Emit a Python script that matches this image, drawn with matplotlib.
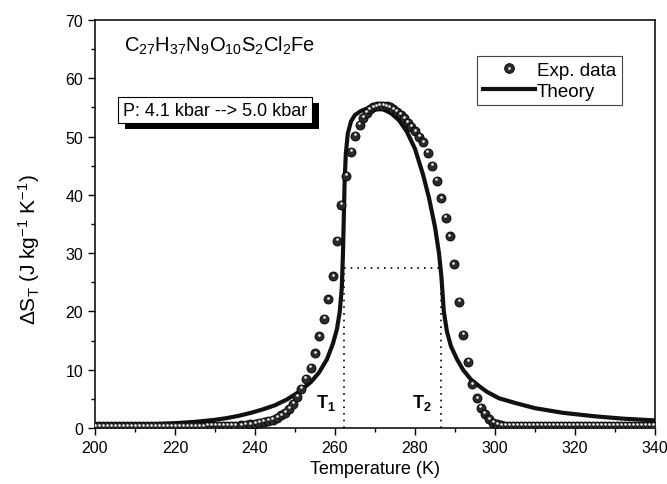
import matplotlib
matplotlib.use('Agg')
import matplotlib.pyplot as plt
from matplotlib import patheffects, transforms
from matplotlib.lines import Line2D
from matplotlib.legend_handler import HandlerTuple
from matplotlib.ticker import MultipleLocator

plt.rcParams['font.family'] = ['Liberation Sans', 'DejaVu Sans']
plt.rcParams['mathtext.fontset'] = 'custom'
plt.rcParams['mathtext.rm'] = 'Liberation Sans'
plt.rcParams['mathtext.it'] = 'Liberation Sans:italic'
plt.rcParams['mathtext.bf'] = 'Liberation Sans:bold'

exp_temp = [200, 201, 202, 203, 204, 205, 206, 207, 208, 209, 210, 211, 212, 213, 214,
            215, 216, 217, 218, 219, 220, 221, 222, 223, 224, 225, 226, 227, 228, 229,
            230, 231, 232, 233, 234, 235, 236.5, 237.7, 238.8, 240.0, 241.1, 242.2,
            243.3, 244.4, 245.5, 246.6, 247.6, 248.6, 249.6, 250.6, 251.6, 252.7, 253.9,
            255.1, 256.1, 257.3, 258.3, 259.5, 260.5, 261.5, 262.8, 264.0, 265.1, 266.2,
            267.1, 267.9, 268.7, 269.5, 270.4, 271.2, 272.1, 272.9, 273.7, 274.6, 275.4,
            276.4, 277.3, 278.2, 279.1, 280.0, 281.0, 282.1, 283.2, 284.3, 285.4, 286.6,
            287.7, 288.7, 289.7, 291.1, 292.1, 293.3, 294.3, 295.5, 296.4, 297.4, 298.5,
            299.5, 300.5, 301.5, 302.5, 303.5, 304.5, 305.5, 306.5, 307.5, 308.5, 309.5,
            310.5, 311.5, 312.5, 313.5, 314.5, 315.5, 316.5, 317.5, 318.5, 319.5, 320.5,
            321.5, 322.5, 323.5, 324.5, 325.5, 326.5, 327.5, 328.5, 329.5, 330.5, 331.5,
            332.5, 333.5, 334.5, 335.5, 336.5, 337.5, 338.5, 339.5]
exp_ds = [0.3, 0.3, 0.3, 0.3, 0.3, 0.3, 0.3, 0.3, 0.3, 0.3, 0.3, 0.3, 0.3, 0.3, 0.3,
          0.3, 0.3, 0.3, 0.3, 0.3, 0.3, 0.3, 0.3, 0.3, 0.3, 0.3, 0.3, 0.3, 0.32, 0.33,
          0.34, 0.35, 0.36, 0.38, 0.4, 0.42, 0.45, 0.5, 0.6, 0.7, 0.85, 1.0,
          1.2, 1.45, 1.75, 2.15, 2.65, 3.3, 4.2, 5.3, 6.7, 8.4, 10.3,
          12.8, 15.7, 18.7, 22.1, 26.0, 32.1, 38.3, 43.3, 47.4, 50.1, 52.0,
          53.2, 54.1, 54.7, 55.0, 55.2, 55.3, 55.3, 55.2, 55.0, 54.7, 54.3,
          53.7, 53.1, 52.4, 51.7, 50.9, 50.0, 49.0, 47.2, 45.0, 42.4, 39.4,
          36.1, 32.9, 28.1, 21.7, 16.0, 11.3, 7.5, 5.1, 3.5, 2.4, 1.5,
          0.9, 0.6, 0.45, 0.4, 0.4, 0.4, 0.4, 0.4, 0.4, 0.4, 0.4,
          0.4, 0.4, 0.4, 0.4, 0.4, 0.4, 0.4, 0.4, 0.4, 0.4, 0.4,
          0.4, 0.4, 0.4, 0.4, 0.4, 0.4, 0.4, 0.4, 0.4, 0.4, 0.4,
          0.4, 0.4, 0.4, 0.4, 0.4, 0.4, 0.4, 0.4]

# theory curve
theory_temp = [200, 205, 210, 215, 220, 225, 230, 233, 236, 239, 242, 245, 248, 251, 254,
               256, 258, 259.5, 260.5, 261.2, 261.7, 262.0, 262.2, 262.4, 262.7, 263.2,
               264, 265, 266.5, 268, 270, 272, 274, 276, 278, 280, 282, 283.5, 285, 286,
               286.6, 287.2, 288, 289, 290.5, 292, 294, 296, 298, 301, 305, 310, 317,
               325, 332, 340]
theory_ds = [0.35, 0.42, 0.52, 0.65, 0.82, 1.05, 1.4, 1.7, 2.1, 2.6, 3.2, 3.9, 4.9, 6.2,
             7.9, 9.5, 11.8, 14.5, 17, 20, 24, 30, 36, 42, 47, 50.5,
             52.6, 53.7, 54.4, 54.8, 55.0, 54.7, 54.0, 52.8, 50.8, 47.9, 43.5, 39.5,
             34.5, 30, 26, 20, 16.5, 14, 11.8, 10.0, 8.3, 7.2, 6.2, 5.1, 4.3, 3.4, 2.6,
             2.0, 1.6, 1.3]

t1 = 262.2
t2 = 286.6
half_max = 27.4

fig = plt.figure(figsize=(6.67, 4.85), dpi=100)
ax = fig.add_axes([0.1424, 0.1155, 0.8396, 0.8412])

# dotted FWHM guides
ax.plot([t1, t1], [0, half_max], color='black', ls=(0, (1, 3)), lw=1.2, zorder=1)
ax.plot([t2, t2], [0, half_max], color='black', ls=(0, (1, 3)), lw=1.2, zorder=1)
ax.plot([t1, t2], [half_max, half_max], color='black', ls=(0, (1, 3)), lw=1.2, zorder=1)

ax.plot(theory_temp, theory_ds, color='#111111', lw=3.0, zorder=2)

# shaded spheres: dark body + small highlight near the top
ax.plot(exp_temp, exp_ds, 'o', ms=6.5, mfc='#2a2a2a', mec='#000000', mew=0.6, zorder=3)
hl = transforms.offset_copy(ax.transData, fig=fig, x=-0.3, y=1.2, units='points')
ax.plot(exp_temp, exp_ds, 'o', ms=1.9, mfc='#f2f2f2', mec='none', transform=hl, zorder=4)

ax.set_xlim(200, 340)
ax.set_ylim(0, 70)
ax.xaxis.set_major_locator(MultipleLocator(20))
ax.xaxis.set_minor_locator(MultipleLocator(10))
ax.yaxis.set_major_locator(MultipleLocator(10))
ax.yaxis.set_minor_locator(MultipleLocator(5))
ax.tick_params(which='both', direction='out', width=1, labelsize=11.5, top=False, right=False)
ax.tick_params(which='major', length=5)
ax.tick_params(which='minor', length=3)
for sp in ax.spines.values():
    sp.set_linewidth(1.1)

ax.set_xlabel('Temperature (K)', fontsize=13, labelpad=4)
ax.set_ylabel(r'$\mathregular{\Delta S_T\ (J\ kg^{-1}\ K^{-1})}$', fontsize=15)
ax.yaxis.set_label_coords(-0.095, 0.44)

ax.text(0.052, 0.939, r'$\mathregular{C_{27}H_{37}N_9O_{10}S_2Cl_2Fe}$', transform=ax.transAxes,
        fontsize=14.5, va='center', ha='left')

box = ax.text(0.05, 0.779, 'P: 4.1 kbar --> 5.0 kbar', transform=ax.transAxes,
              fontsize=13, va='center', ha='left',
              bbox=dict(boxstyle='square,pad=0.25', fc='white', ec='black', lw=0.8))
box.get_bbox_patch().set_path_effects([
    patheffects.SimplePatchShadow(offset=(5, -4.5), shadow_rgbFace='black', alpha=1),
    patheffects.Normal()])

ax.text(260.2, 4.5, r'$\mathbf{T_1}$', fontsize=13, ha='right', va='center')
ax.text(284.2, 4.5, r'$\mathbf{T_2}$', fontsize=13, ha='right', va='center')

h_body = Line2D([], [], ls='none', marker='o', ms=7, mfc='#2a2a2a', mec='#000000', mew=0.6)
h_hl = Line2D([], [], ls='none', marker='o', ms=2.0, mfc='#f2f2f2', mec='none')
h_line = Line2D([], [], color='#111111', lw=3.0)
leg = ax.legend([(h_body, h_hl), h_line], ['Exp. data', 'Theory'],
                handler_map={tuple: HandlerTuple(ndivide=1)},
                loc='upper right', bbox_to_anchor=(0.941, 0.912), fontsize=13.5,
                frameon=True, fancybox=False, edgecolor='#444444', framealpha=1,
                handlelength=2.8, handletextpad=0.1, borderpad=0.3, labelspacing=0.2,
                borderaxespad=0)
leg.get_frame().set_linewidth(0.8)

fig.savefig('out.png', dpi=100)
